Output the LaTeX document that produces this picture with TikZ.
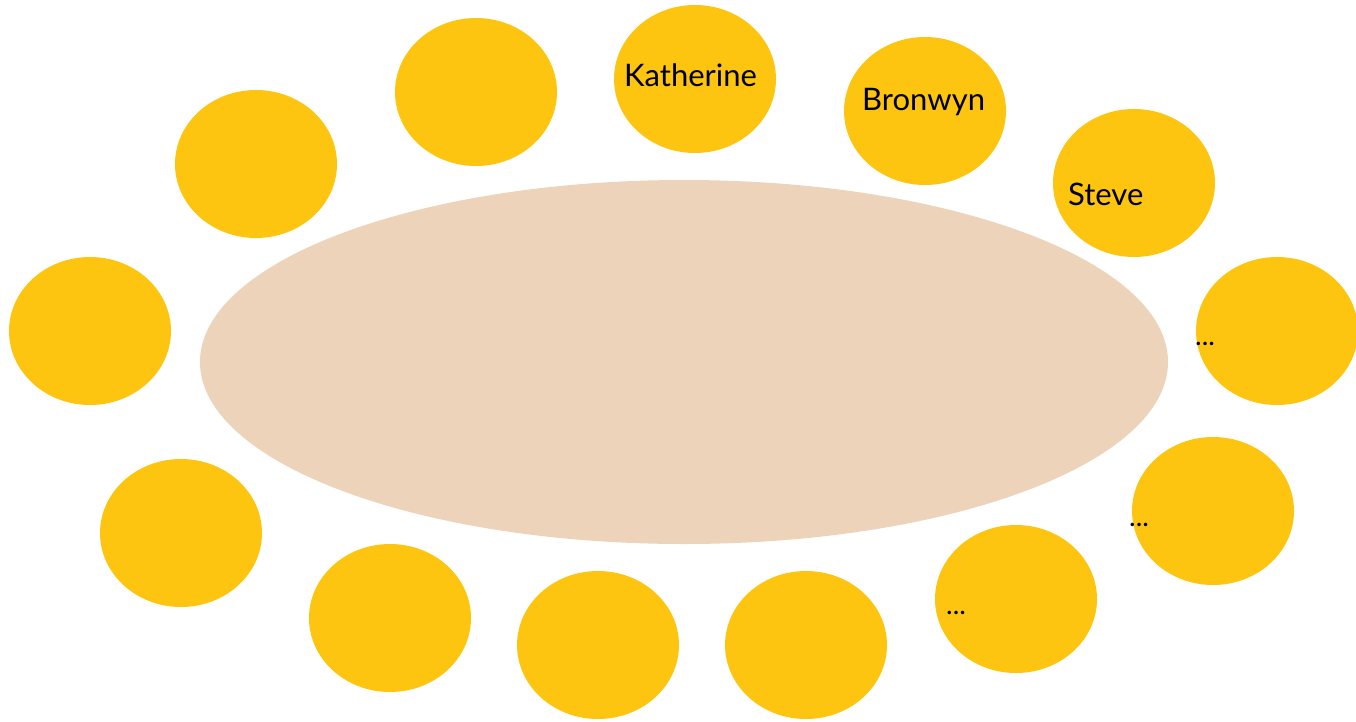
\documentclass[tikz,border=0pt]{standalone}
\usepackage{fontspec}
\setmainfont{Lato}
\usetikzlibrary{shapes.geometric}
\definecolor{seat}{HTML}{FDC50F}
\definecolor{tablec}{HTML}{EDD3BA}
\begin{document}
\begin{tikzpicture}[x=1pt,y=-1pt,
  seatst/.style={ellipse,fill=seat,minimum width=162pt,minimum height=148pt,inner sep=0pt},
  lbl/.style={anchor=base west,inner sep=0pt,font=\fontsize{31}{33}\selectfont,text=black},
  dots/.style={anchor=base west,inner sep=0pt,font=\fontsize{28}{30}\selectfont,text=black}]
\useasboundingbox (0,0) rectangle (1356,721);
\node[ellipse,fill=tablec,minimum width=968pt,minimum height=364pt,inner sep=0pt] (table) at (684,362) {};
\node[seatst] (s1) at (476,92) {};
\node[seatst] (s2) at (695,79) {};
\node[seatst] (s3) at (925,111) {};
\node[seatst] (s4) at (1134,183) {};
\node[seatst] (s5) at (1277,331) {};
\node[seatst] (s6) at (1213,511) {};
\node[seatst] (s7) at (1016,599) {};
\node[seatst] (s8) at (806,645) {};
\node[seatst] (s9) at (598,645) {};
\node[seatst] (s10) at (390,618) {};
\node[seatst] (s11) at (181,533) {};
\node[seatst] (s12) at (90,331) {};
\node[seatst] (s13) at (256,164) {};
\node[lbl] (t2) at (624,86) {Katherine};
\node[lbl] (t3) at (862,110) {Bronwyn};
\node[lbl] (t4) at (1068,205) {Steve};
\node[dots] (t5) at (1195,345) {...};
\node[dots] (t6) at (1129,526) {...};
\node[dots] (t7) at (946,614) {...};
\end{tikzpicture}
\end{document}
